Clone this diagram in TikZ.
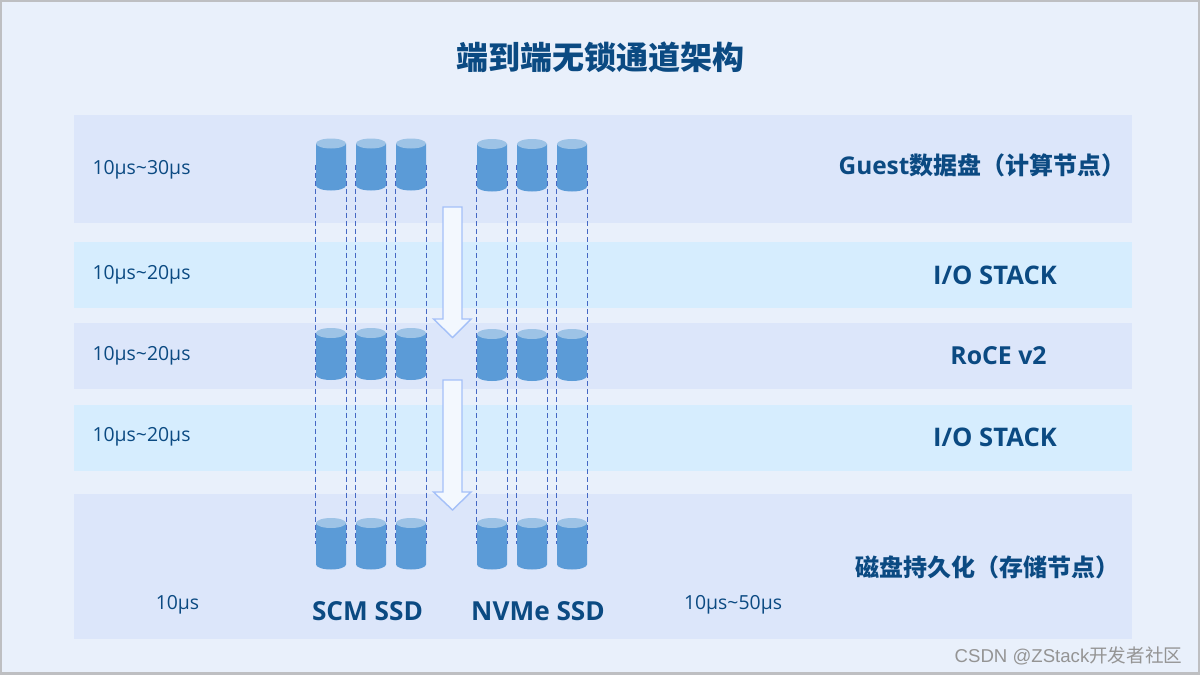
\documentclass[tikz,border=0pt]{standalone}
\usepackage{fontspec}
\setmainfont{Open Sans}
\newfontfamily\cjk{Noto Sans CJK SC}
\newfontfamily\wm{Liberation Sans}
\definecolor{bgc}{HTML}{E9F0FB}
\definecolor{framec}{HTML}{BEBFC2}
\definecolor{bandA}{HTML}{DCE6FA}
\definecolor{bandB}{HTML}{D6EDFE}
\definecolor{navy}{HTML}{0B4A82}
\definecolor{cylbody}{HTML}{5B9BD7}
\definecolor{cyltop}{HTML}{9DC3E6}
\definecolor{dashc}{HTML}{4568C4}
\definecolor{arrowf}{HTML}{F3F8FE}
\definecolor{arrowd}{HTML}{A4C0F8}
\newcommand{\tld}{{\char"7E}}
\tikzset{
  x=0.5pt,y=-0.5pt,
  lat/.style={text=navy,font=\fontsize{9.7pt}{11pt}\selectfont,inner sep=0pt},
  head/.style={text=navy,font=\fontsize{12.8pt}{15pt}\bfseries\selectfont,inner sep=0pt},
  headcjk/.style={text=navy,font=\fontsize{12pt}{15pt}\cjk\bfseries\selectfont,inner sep=0pt},
  cylnode/.style={minimum width=15.5pt,minimum height=#1,inner sep=0pt,outer sep=0pt},
  guide/.style={draw=dashc,line width=0.55pt,dash pattern=on 2.5pt off 1.5pt},
  flow/.style={fill=arrowf,draw=arrowd,line width=0.7pt,line join=miter},
}
% name, centre x, top y, bottom y
\newcommand{\cylat}[4]{%
  \node[cylnode=#4*0.5pt-#3*0.5pt] (#1) at (#2,{(#3+#4)/2}) {};
}
\newcommand{\cyldraw}[4]{%
  \fill[cylbody] (#2-15,#3+5) -- (#2-15,#4-5) arc[start angle=180,end angle=360,x radius=7.5pt,y radius=2.5pt] -- (#2+15,#3+5) -- cycle;
  \fill[cyltop] (#2,#3+5) ellipse[x radius=7.5pt,y radius=2.5pt];
}
\begin{document}
\begin{tikzpicture}
\useasboundingbox (0,0) rectangle (1200,675);
\fill[framec] (0,0) rectangle (1200,675);
\fill[bgc] (2,2) rectangle (1198,672);
% bands
\fill[bandA] (74,115) rectangle (1132,223);
\fill[bandB] (74,242) rectangle (1132,308);
\fill[bandA] (74,323) rectangle (1132,389);
\fill[bandB] (74,405) rectangle (1132,471);
\fill[bandA] (74,494) rectangle (1132,639);
% cylinder anchors
\foreach \n/\x in {1/331,2/371,3/411}{
  \cylat{t\n}{\x}{138.5}{190.5}
  \cylat{m\n}{\x}{328}{380}
  \cylat{b\n}{\x}{518}{569.5}
}
\foreach \n/\x in {4/492,5/532,6/572}{
  \cylat{t\n}{\x}{139}{191.5}
  \cylat{m\n}{\x}{329}{381}
  \cylat{b\n}{\x}{518}{569.5}
}
% dashed guides
\foreach \n in {1,...,6}{
  \draw[guide] (t\n.west) -- (b\n.west);
  \draw[guide] (t\n.east) -- (b\n.east);
}
% cylinders
\foreach \n/\x in {1/331,2/371,3/411}{
  \cyldraw{t\n}{\x}{138.5}{190.5}
  \cyldraw{m\n}{\x}{328}{380}
  \cyldraw{b\n}{\x}{518}{569.5}
}
\foreach \n/\x in {4/492,5/532,6/572}{
  \cyldraw{t\n}{\x}{139}{191.5}
  \cyldraw{m\n}{\x}{329}{381}
  \cyldraw{b\n}{\x}{518}{569.5}
}
% flow arrows
\draw[flow] (443,207) -- (462,207) -- (462,319) -- (471,319) -- (452.5,337.5) -- (433.5,319) -- (443,319) -- cycle;
\draw[flow] (443,380) -- (462,380) -- (462,492) -- (471,492) -- (452.5,510) -- (433.5,492) -- (443,492) -- cycle;
% labels
\node[text=navy,font=\fontsize{16pt}{18pt}\cjk\bfseries\selectfont,inner sep=0pt] (title) at (600,57) {端到端无锁通道架构};
\node[lat] (l1) at (141.5,170) {10µs\tld 30µs};
\node[lat] (l2) at (141.5,274.5) {10µs\tld 20µs};
\node[lat] (l3) at (141.5,355.5) {10µs\tld 20µs};
\node[lat] (l4) at (141.5,436.5) {10µs\tld 20µs};
\node[lat] (l5) at (177.5,604.5) {10µs};
\node[lat] (l6) at (733,604.5) {10µs\tld 50µs};
\node[head,font=\fontsize{12.2pt}{15pt}\bfseries\selectfont] (r1) at (982,165) {Guest{\cjk\fontsize{12pt}{15pt}\selectfont 数据盘（计算节点）}};
\node[head] (r2) at (995,275) {I/O STACK};
\node[head,font=\fontsize{12.4pt}{15pt}\bfseries\selectfont] (r3) at (998.5,356) {RoCE v2};
\node[head] (r4) at (995,437) {I/O STACK};
\node[headcjk] (r5) at (987,567) {磁盘持久化（存储节点）};
\node[head,font=\fontsize{13.1pt}{15pt}\bfseries\selectfont] (s1) at (367.5,611) {SCM SSD};
\node[head,font=\fontsize{13.1pt}{15pt}\bfseries\selectfont] (s2) at (538,611) {NVMe SSD};
\node[text=black!42,font=\fontsize{9.3pt}{11pt}\wm\selectfont,inner sep=0pt] (wm) at (1068.5,656) {CSDN @ZStack{\cjk 开发者社区}};
\end{tikzpicture}
\end{document}
